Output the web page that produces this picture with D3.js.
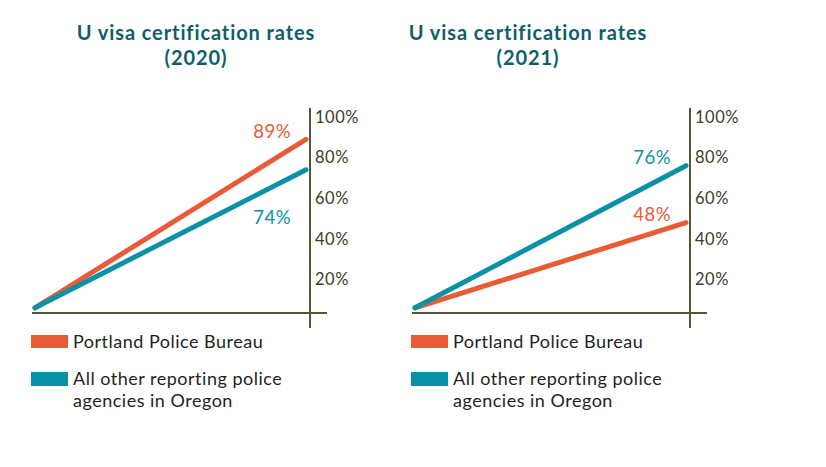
<!DOCTYPE html>
<html>
<head>
<meta charset="utf-8">
<script src="https://cdn.jsdelivr.net/npm/d3@7"></script>
<style>
  body { margin: 0; background: #fff; }
  text { font-family: Lato, "Open Sans", sans-serif; }
</style>
</head>
<body>
<div id="chart"></div>
<script>
// data
const years = ["2020", "2021"];
const series = ["Portland Police Bureau", "All other reporting police agencies in Oregon"];
const portland = [89, 48];
const others = [74, 76];
const tickValues = [20, 40, 60, 80, 100];
const origin = 6; // both lines start from the same low point

const colors = ["#e95b37", "#0b91a6"];

var W = 826, H = 467, panelShift = 380;

const svg = d3.select("#chart")
  .append("svg")
  .attr("width", W)
  .attr("height", H);

const x = d3.scaleLinear().domain([0, 1]).range([35, 306]);
const y = d3.scaleLinear().domain([0, 100]).range([320, 117]);

const line = d3.line()
  .x(d => x(d.t))
  .y(d => y(d.v));

const titleX = [196, 528];

years.forEach((year, i) => {
  const g = svg.append("g")
    .attr("transform", `translate(${i * panelShift}, 0)`);

  // title
  const title = svg.append("text")
    .attr("x", titleX[i])
    .attr("y", 40)
    .attr("text-anchor", "middle")
    .attr("fill", "#0d5e6a")
    .attr("font-weight", "bold")
    .attr("font-size", 20)
    .attr("letter-spacing", 0.9);
  title.append("tspan").attr("x", titleX[i]).text("U visa certification rates");
  title.append("tspan").attr("x", titleX[i]).attr("dy", 25).text(`(${year})`);

  // baseline
  g.append("line")
    .attr("x1", 32).attr("x2", 327)
    .attr("y1", 313).attr("y2", 313)
    .attr("stroke", "#4f5834")
    .attr("stroke-width", 2);

  // right axis
  g.append("line")
    .attr("x1", 310).attr("x2", 310)
    .attr("y1", 108).attr("y2", 328)
    .attr("stroke", "#4f5834")
    .attr("stroke-width", 2);

  const axis = g.append("g")
    .attr("transform", "translate(310, 0)")
    .call(d3.axisRight(y).tickValues(tickValues).tickSize(0).tickPadding(5).tickFormat(d => d + "%"));
  axis.select(".domain").remove();
  axis.selectAll("text")
    .attr("fill", "#3b4026")
    .attr("font-size", 16.5)
    .attr("letter-spacing", 0.5)
    .style("font-family", "Lato, sans-serif");

  const vals = [portland[i], others[i]];

  // lines: orange first, teal on top
  vals.forEach((v, s) => {
    g.append("path")
      .datum([{ t: 0, v: origin }, { t: 1, v: v }])
      .attr("d", line)
      .attr("fill", "none")
      .attr("stroke", colors[s])
      .attr("stroke-width", 5)
      .attr("stroke-linecap", "round");
  });

  // value labels
  const hi = d3.max(vals);
  vals.forEach((v, s) => {
    const close = Math.abs(vals[0] - vals[1]) < 20;
    const below = v < hi && close;
    g.append("text")
      .attr("x", 291)
      .attr("y", below ? y(v) + 48 : y(v) - 8)
      .attr("dy", "0.35em")
      .attr("text-anchor", "end")
      .attr("fill", colors[s])
      .attr("font-size", 18.5)
      .attr("letter-spacing", 0.5)
      .text(v + "%");
  });

  // legend
  const lg = g.append("g").attr("transform", "translate(31, 335)");
  lg.append("rect").attr("x", 0).attr("y", 0).attr("width", 37).attr("height", 13).attr("fill", colors[0]);
  lg.append("text").attr("x", 42).attr("y", 7).attr("dy", "0.35em")
    .attr("fill", "#231f20").attr("font-size", 18).attr("letter-spacing", 0.5).text(series[0]);

  lg.append("rect").attr("x", 0).attr("y", 37).attr("width", 37).attr("height", 14).attr("fill", colors[1]);
  const t2 = lg.append("text").attr("x", 42).attr("y", 44).attr("dy", "0.35em")
    .attr("fill", "#231f20").attr("font-size", 18).attr("letter-spacing", 0.5);
  t2.append("tspan").attr("x", 42).text("All other reporting police");
  t2.append("tspan").attr("x", 42).attr("dy", 21.7).text("agencies in Oregon");
});
</script>
</body>
</html>
